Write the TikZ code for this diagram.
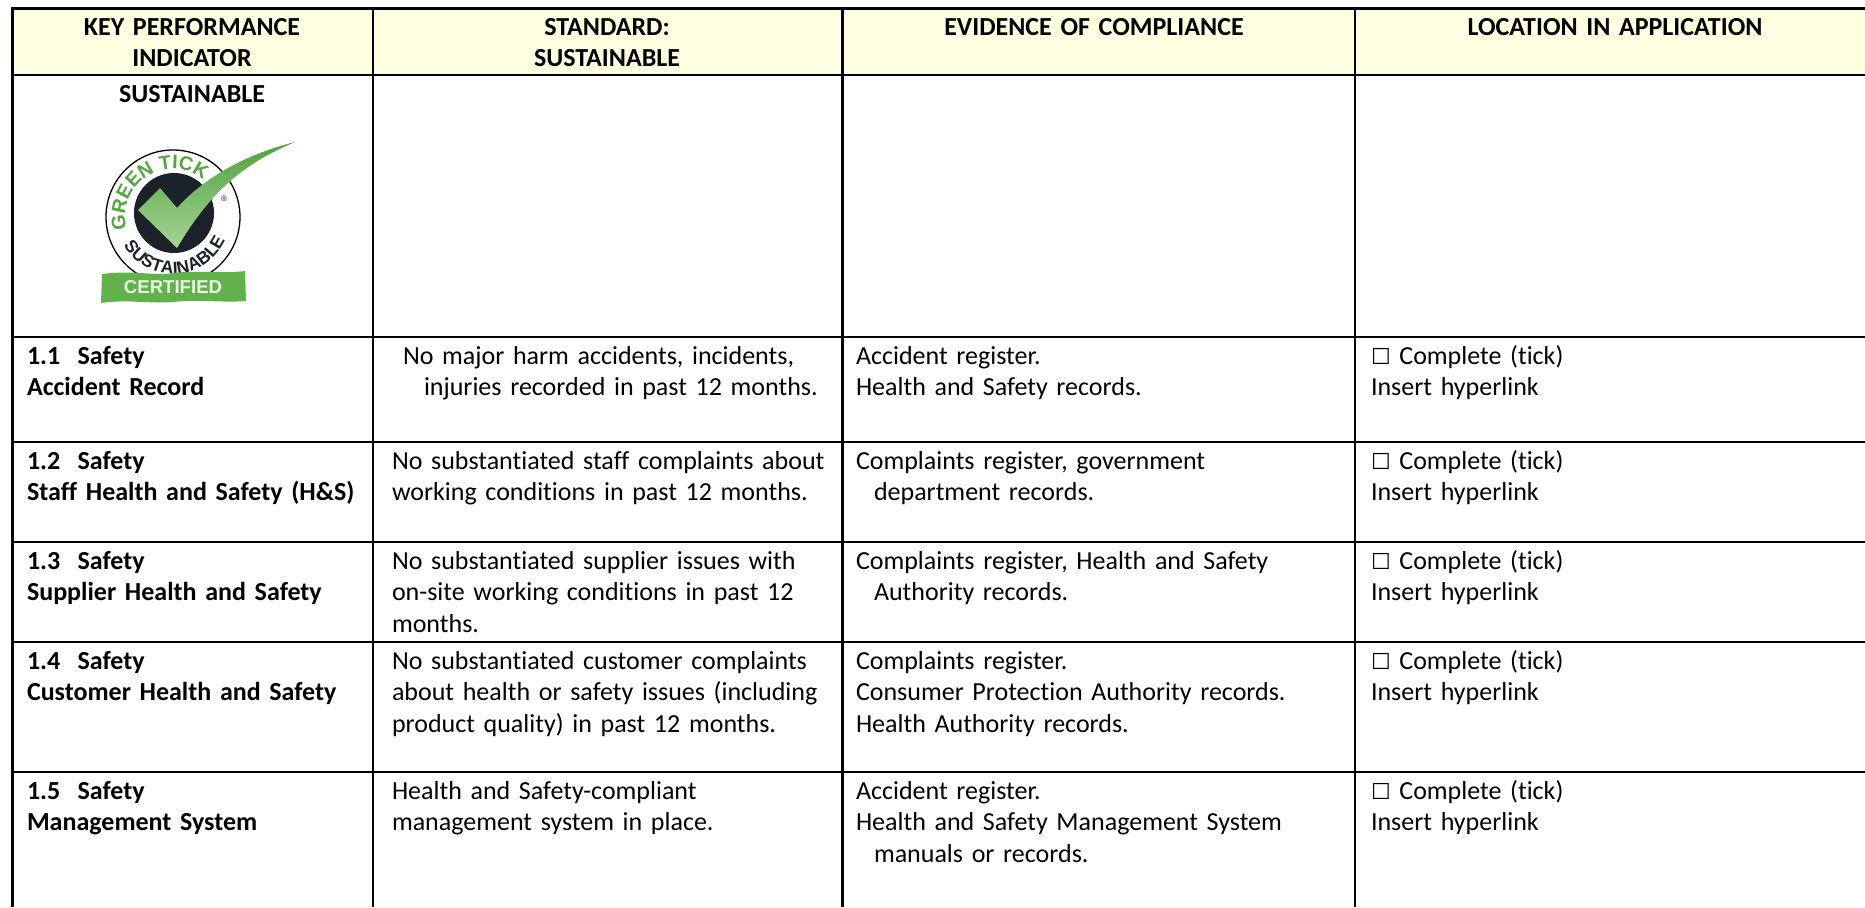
\documentclass[tikz,border=0pt]{standalone}
\usepackage{fontspec}
\setmainfont{Carlito}[Ligatures=NoCommon]
\newfontfamily\symfont{DejaVu Sans}
\newfontfamily\logofont{Liberation Sans}
\usetikzlibrary{decorations.text}
\definecolor{hdrfill}{RGB}{255,255,225}
\definecolor{tickgreen}{RGB}{80,162,62}
\definecolor{ticklight}{RGB}{165,212,150}
\definecolor{ribbon}{RGB}{98,178,76}
\definecolor{disk}{RGB}{27,34,42}
\definecolor{logogreen}{RGB}{84,166,66}
\definecolor{certtext}{RGB}{236,246,230}
\tikzset{
  cell/.style={anchor=base west, inner sep=0pt, outer sep=0pt, text width=240pt, align=left,
               font=\fontsize{13}{15.75}\selectfont},
  kpi/.style={cell, font=\fontsize{13}{15.75}\selectfont\bfseries},
  hdr/.style={anchor=base, inner sep=0pt, outer sep=0pt, text width=240pt, align=center,
              font=\fontsize{13}{15.75}\selectfont\bfseries},
  thickrule/.style={line width=1.5pt},
  thinrule/.style={line width=1pt},
}
\newcommand{\chkbox}{{\symfont\fontsize{11}{11}\selectfont ☐}}
\begin{document}
\begin{tikzpicture}[x=0.5pt, y=-0.5pt]
\useasboundingbox (0,0) rectangle (1865,907);
\fill[white] (0,0) rectangle (1865,907);
% header background
\fill[hdrfill] (12,8) rectangle (1865,75);
% horizontal rules
\draw[thinrule] (12,75) -- (1865,75);
\foreach \yy in {337,442,542,642,772} {\draw[thinrule] (12,\yy) -- (1865,\yy);}
\draw[thickrule] (10.5,8) -- (1865,8);
% vertical rules
\draw[thickrule] (12,8) -- (12,907);
\draw[thinrule] (373,8) -- (373,907);
\draw[thickrule] (842,8) -- (842,907);
\draw[thinrule] (1355,8) -- (1355,907);

% header texts
\node[hdr] (h1) at (192,35) {KEY PERFORMANCE\\INDICATOR};
\node[hdr] (h2) at (607,35) {STANDARD:\\SUSTAINABLE};
\node[hdr] (h3) at (1094,35) {EVIDENCE OF COMPLIANCE};
\node[hdr] (h4) at (1615,35) {LOCATION IN APPLICATION};
\node[hdr] (sus) at (192,102) {SUSTAINABLE};

% logo
\begin{scope}[shift={(173,217)}, x=0.5pt, y=0.5pt]
  \draw[line width=0.65pt, fill=white] (0,0) circle[radius=67];
  \fill[disk] (1,4) circle[radius=40];
  \path[decorate, decoration={text along path, text align=center,
     text={|\logofont\bfseries\fontsize{9.8}{9.8}\selectfont\color{logogreen}|GREEN TICK}}]
     (220:48) arc[start angle=220, end angle=26, radius=48];
  \path[decorate, decoration={text along path, text align=center,
     text={|\logofont\bfseries\fontsize{8.8}{8.8}\selectfont\color{disk}|SUSTAINABLE}}]
     (200:57) arc[start angle=200, end angle=346, radius=57];
  \node[font=\logofont\fontsize{4}{4}\selectfont, text=disk, inner sep=0pt] (reg) at (51,18) {®};
  \shade[top color=tickgreen, bottom color=ticklight]
     (-35,7) -- (-13,29) -- (4,9) .. controls (30,38) and (70,62) .. (122,75)
     .. controls (75,55) and (40,30) .. (4,-31) -- cycle;
  \fill[ribbon] (-71,-57) .. controls (-40,-53) and (-20,-59) .. (0,-56)
     .. controls (25,-53) and (50,-57) .. (72,-54) -- (73,-84)
     .. controls (50,-86) and (25,-82) .. (0,-85)
     .. controls (-25,-87) and (-45,-82) .. (-72,-86) -- cycle;
  \node[font=\logofont\bfseries\fontsize{9.3}{9.3}\selectfont, text=certtext, inner sep=0pt] (cert) at (0,-70) {CERTIFIED};
\end{scope}

% row 1.1
\node[kpi] (k1) at (27,364) {1.1\ \ Safety\\Accident Record};
\node[cell] (s1) at (403,364) {No major harm accidents, incidents,\\\hspace*{10.5pt}injuries recorded in past 12 months.};
\node[cell] (e1) at (856,364) {Accident register.\\Health and Safety records.};
\node[cell] (l1) at (1371,364) {\chkbox{} Complete (tick)\\Insert hyperlink};
% row 1.2
\node[kpi] (k2) at (27,469) {1.2\ \ Safety\\Staff Health and Safety (H\&S)};
\node[cell] (s2) at (392,469) {No substantiated staff complaints about\\working conditions in past 12 months.};
\node[cell] (e2) at (856,469) {Complaints register, government\\\hspace*{9pt}department records.};
\node[cell] (l2) at (1371,469) {\chkbox{} Complete (tick)\\Insert hyperlink};
% row 1.3
\node[kpi] (k3) at (27,569) {1.3\ \ Safety\\Supplier Health and Safety};
\node[cell] (s3) at (392,569) {No substantiated supplier issues with\\on-site working conditions in past 12\\months.};
\node[cell] (e3) at (856,569) {Complaints register, Health and Safety\\\hspace*{9pt}Authority records.};
\node[cell] (l3) at (1371,569) {\chkbox{} Complete (tick)\\Insert hyperlink};
% row 1.4
\node[kpi] (k4) at (27,669) {1.4\ \ Safety\\Customer Health and Safety};
\node[cell] (s4) at (392,669) {No substantiated customer complaints\\about health or safety issues (including\\product quality) in past 12 months.};
\node[cell] (e4) at (856,669) {Complaints register.\\Consumer Protection Authority records.\\Health Authority records.};
\node[cell] (l4) at (1371,669) {\chkbox{} Complete (tick)\\Insert hyperlink};
% row 1.5
\node[kpi] (k5) at (27,799) {1.5\ \ Safety\\Management System};
\node[cell] (s5) at (392,799) {Health and Safety-compliant\\management system in place.};
\node[cell] (e5) at (856,799) {Accident register.\\Health and Safety Management System\\\hspace*{9pt}manuals or records.};
\node[cell] (l5) at (1371,799) {\chkbox{} Complete (tick)\\Insert hyperlink};
\end{tikzpicture}
\end{document}
